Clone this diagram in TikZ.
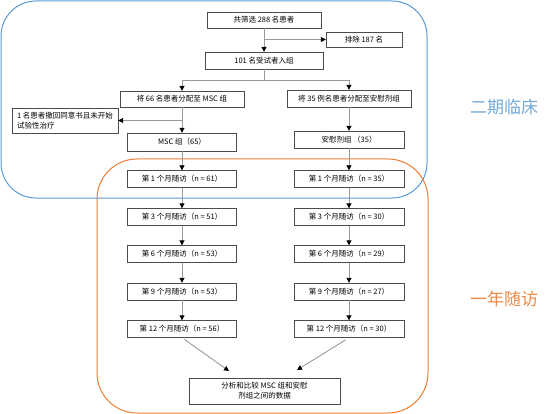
\documentclass[tikz,border=0pt]{standalone}
\usepackage{fontspec}
\setmainfont{Liberation Serif}
\newfontfamily\cjk{Noto Sans CJK SC}
\usetikzlibrary{arrows.meta}
\definecolor{phaseblue}{RGB}{91,155,213}
\definecolor{phaseorange}{RGB}{237,125,49}
\tikzset{
  box/.style={draw=black!70, fill=white, inner sep=2pt, minimum height=17,
    font=\cjk\fontsize{7.5}{10}\selectfont},
  link/.style={draw=black!40, line width=0.9},
  arr/.style={link, -{Triangle[length=5,width=5,color=black]}},
  phase/.style={font=\cjk\fontsize{17}{20}\selectfont},
}

\begin{document}
\begin{tikzpicture}[x=1pt, y=-1pt]
  \useasboundingbox (0,0) rectangle (548,414);

  % phase frames
  \draw [phaseblue, line width=1, rounded corners=35] (1,1) rectangle (427,198);
  \draw [phaseorange, line width=1, rounded corners=40] (97,159) rectangle (428,413);
  \node [phase, text=phaseblue!85] (phaseII) at (504,107) {二期临床};
  \node [phase, text=phaseorange!90] (followup) at (504,299) {一年随访};

  % screening and allocation
  \node [box, minimum width=114, minimum height=16] (screen) at (264,20) {共筛选 288 名患者};
  \node [box, minimum width=76, minimum height=15] (excl) at (364,39.5) {排除 187 名};
  \node [box, minimum width=118] (enroll) at (264,60.5) {101 名受试者入组};
  \node [box, minimum width=124, minimum height=16] (mscalloc) at (182,99) {将 66 名患者分配至 MSC 组};
  \node [box, minimum width=124] (pboalloc) at (349,98.5) {将 35 例名患者分配至安慰剂组};
  \node [box, minimum width=106, minimum height=25, align=left] (withdraw) at (65,120.5)
    {1 名患者撤回同意书且未开始\\试验性治疗};
  \node [box, minimum width=109, minimum height=18] (msc) at (182,142) {MSC 组（65）};
  \node [box, minimum width=110] (pbo) at (349,139.5) {安慰剂组 （35）};

  \draw [arr] (screen.south) -- (enroll.north);
  \draw [arr] (screen.south |- excl.west) -- (excl.west);
  \draw [arr] (enroll.south) -- ++(0,11) -| (mscalloc.north);
  \draw [arr] (enroll.south) -- ++(0,11) -| (pboalloc.north);
  \draw [arr] (mscalloc.south) -- (msc.north);
  \draw [arr] (mscalloc.south |- withdraw.east) -- (withdraw.east);
  \draw [arr] (pboalloc.south) -- (pbo.north);

  % follow-up visits
  \foreach \m/\a/\b/\y in {1/61/35/179, 3/51/30/217, 6/53/29/254, 9/53/27/291.5, 12/56/30/329} {
    \node [box, minimum width=109] (L\m) at (182,\y) {第 \m\ 个月随访（n = \a）};
    \node [box, minimum width=110] (R\m) at (349,\y) {第 \m\ 个月随访（n = \b）};
  }
  \foreach \p/\q in {msc/L1, L1/L3, L3/L6, L6/L9, L9/L12, pbo/R1, R1/R3, R3/R6, R6/R9, R9/R12}
    \draw [arr] (\p.south) -- (\q.north);

  % comparison
  \node [box, minimum width=151, minimum height=26, align=center] (compare) at (264.5,391)
    {分析和比较 MSC 组和安慰\\剂组之间的数据};
  \coordinate (jl) at (229,371);
  \coordinate (jr) at (297,370);
  \draw [arr, shorten <=3] (L12.south) -- (jl);
  \draw [arr, shorten <=4] (R12.south) -- (jr);
\end{tikzpicture}
\end{document}
